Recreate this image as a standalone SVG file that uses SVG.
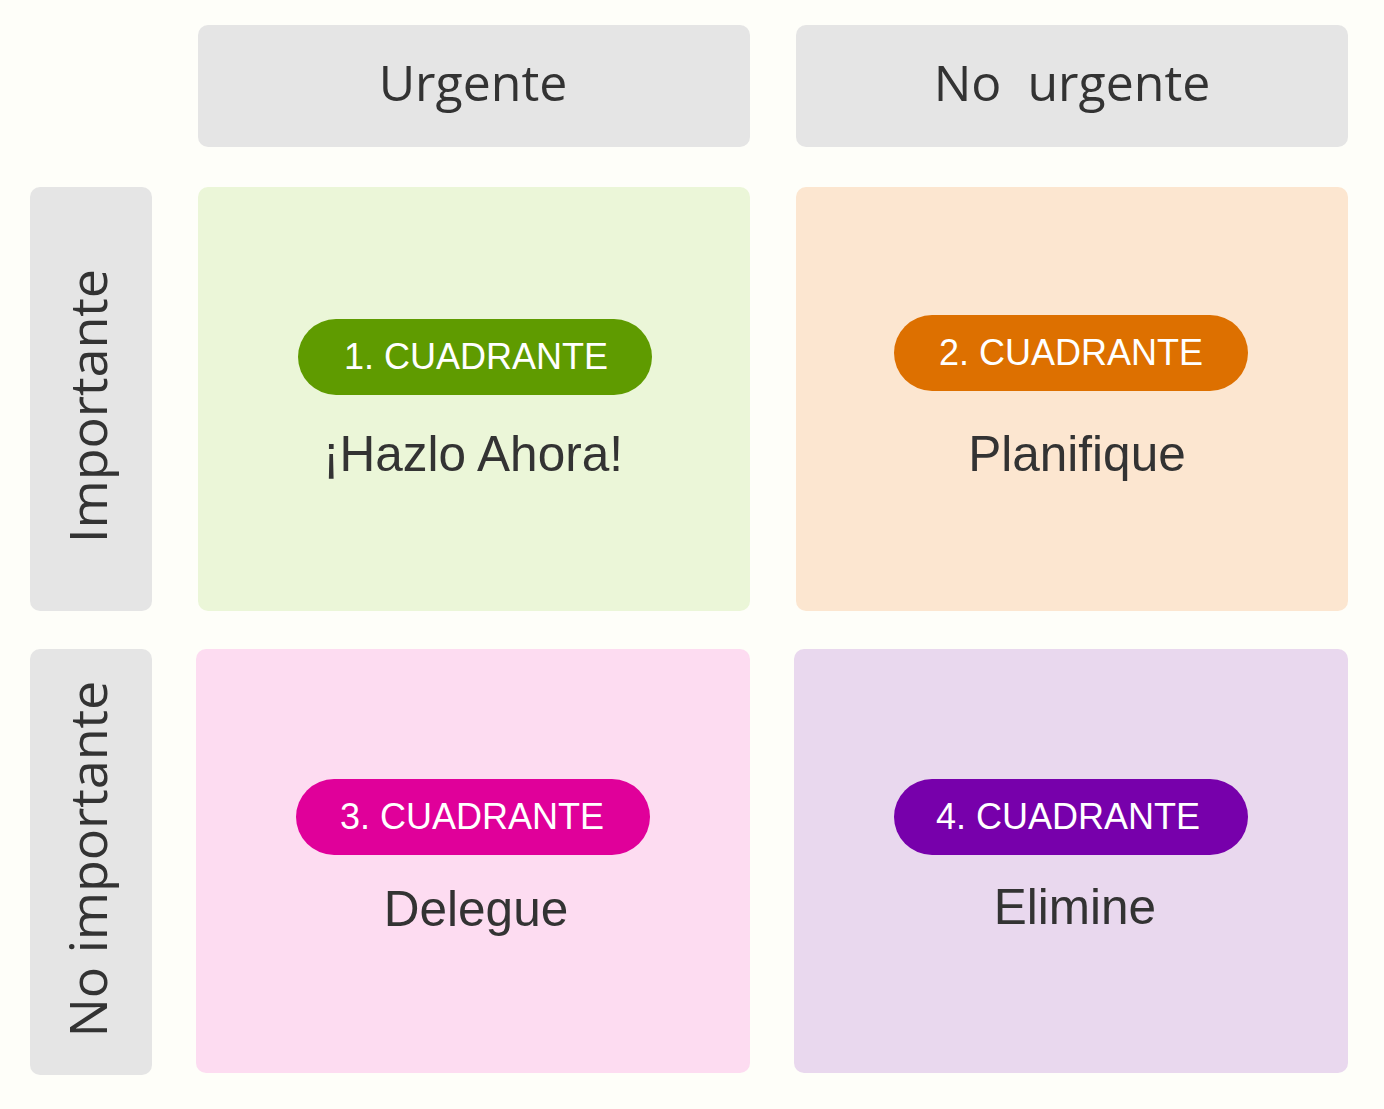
<svg xmlns="http://www.w3.org/2000/svg" width="1384" height="1109" viewBox="0 0 1384 1109">
<style>
.hdr{fill:#e5e5e5}
.ht{font-family:"Open Sans","DejaVu Sans",sans-serif;font-size:50px;font-weight:500;fill:#333;text-anchor:middle}
.vt{font-size:52px}
.pt{font-family:"Liberation Sans",Arial,sans-serif;font-size:36px;fill:#fff;text-anchor:middle}
.mt{font-family:"Liberation Sans",Arial,sans-serif;font-size:49.5px;fill:#333;text-anchor:middle}
</style>
<rect width="1384" height="1109" fill="#fefef9"/>
<g id="col-urgente"><rect class="hdr" x="198" y="25" width="552" height="122" rx="10"/><text class="ht" x="473" y="101">Urgente</text></g>
<g id="col-no-urgente"><rect class="hdr" x="796" y="25" width="552" height="122" rx="10"/><text class="ht" x="1072" y="101" xml:space="preserve">No  urgente</text></g>
<g id="row-importante"><rect class="hdr" x="30" y="187" width="122" height="424" rx="10"/><text class="ht vt" transform="translate(107,406) rotate(-90)">Importante</text></g>
<g id="row-no-importante"><rect class="hdr" x="30" y="649" width="122" height="426" rx="10"/><text class="ht vt" transform="translate(107,859) rotate(-90)">No importante</text></g>
<g id="q1"><rect x="198" y="187" width="552" height="424" rx="10" fill="#ebf6d8"/><rect x="298" y="319" width="354" height="76" rx="38" fill="#5f9b00"/><text class="pt" x="476" y="369">1. CUADRANTE</text><text class="mt" x="473" y="471">¡Hazlo Ahora!</text></g>
<g id="q2"><rect x="796" y="187" width="552" height="424" rx="10" fill="#fce6d0"/><rect x="894" y="315" width="354" height="76" rx="38" fill="#dd7000"/><text class="pt" x="1071" y="365">2. CUADRANTE</text><text class="mt" x="1077" y="471">Planifique</text></g>
<g id="q3"><rect x="196" y="649" width="554" height="424" rx="10" fill="#fddcf1"/><rect x="296" y="779" width="354" height="76" rx="38" fill="#e0009a"/><text class="pt" x="472" y="829">3. CUADRANTE</text><text class="mt" x="476" y="926">Delegue</text></g>
<g id="q4"><rect x="794" y="649" width="554" height="424" rx="10" fill="#e9d8ee"/><rect x="894" y="779" width="354" height="76" rx="38" fill="#7700ab"/><text class="pt" x="1068" y="829">4. CUADRANTE</text><text class="mt" x="1075" y="924">Elimine</text></g>
<g id="connectors"/>
</svg>
